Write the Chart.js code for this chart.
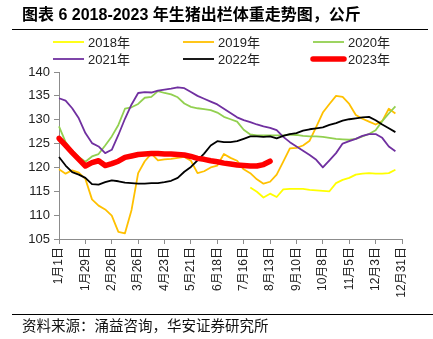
<!DOCTYPE html>
<html><head><meta charset="utf-8">
<script src="https://cdn.jsdelivr.net/npm/chart.js@4.4.1/dist/chart.umd.min.js"></script>
<style>html,body{margin:0;padding:0;background:#fff;}canvas{display:block;}</style>
</head><body>
<canvas id="c" width="433" height="339"></canvas>
<script>
const titleText = '图表 6 2018-2023 年生猪出栏体重走势图，公斤';
const sourceText = '资料来源：涌益咨询，华安证券研究所';
const weeks = ['1月1日','1月8日','1月15日','1月22日','1月29日','2月5日','2月12日','2月19日','2月26日','3月5日','3月12日','3月19日','3月26日','4月2日','4月9日','4月16日','4月23日','4月30日','5月7日','5月14日','5月21日','5月28日','6月4日','6月11日','6月18日','6月25日','7月2日','7月9日','7月16日','7月23日','7月30日','8月6日','8月13日','8月20日','8月27日','9月3日','9月10日','9月17日','9月24日','10月1日','10月8日','10月15日','10月22日','10月29日','11月5日','11月12日','11月19日','11月26日','12月3日','12月10日','12月17日','12月24日','12月31日'];
const labelEvery = 4;
const seriesNames = ['2018年','2019年','2020年','2021年','2022年','2023年'];
const y2018 = Array(29).fill(null).concat([115.8,114.9,113.7,114.5,113.8,115.4,115.5,115.5,115.5,115.3,115.2,115.1,115.0,116.7,117.4,117.8,118.5,118.7,118.8,118.7,118.7,118.8,119.5]);
const y2019 = [119.6,118.7,119.4,118.9,117.6,113.3,112.0,111.2,109.9,106.5,106.2,111.1,118.8,121.3,122.9,121.5,121.7,121.8,122.0,122.2,121.4,118.8,119.2,120.0,120.4,122.8,122.0,121.4,119.6,118.8,117.5,116.6,117.0,118.5,121.2,124.0,124.1,124.6,125.6,128.5,131.5,133.3,135.0,134.8,133.3,131.0,130.2,129.6,129.0,129.7,132.3,131.3];
const y2020 = [128.6,125.3,123.5,122.2,121.2,122.3,122.8,124.6,126.5,128.9,132.3,132.6,133.3,134.6,134.8,136.0,135.6,135.3,134.7,133.4,132.7,132.4,132.2,132.0,131.5,130.6,130.1,129.6,127.9,126.9,126.7,126.7,126.7,126.7,126.7,126.9,126.8,126.6,126.5,126.5,126.4,126.2,126.0,125.9,125.8,126.0,126.5,127.0,127.8,129.7,131.3,132.8];
const y2021 = [134.5,134.0,132.4,130.3,127.2,125.1,124.4,123.0,123.7,126.8,130.2,133.2,135.6,135.8,135.7,136.1,136.3,136.5,136.8,136.6,135.8,135.0,134.4,133.8,133.2,132.3,131.4,130.5,129.9,129.5,129.0,128.6,128.3,127.8,126.4,125.3,124.4,123.5,122.6,121.6,120.0,121.5,123.0,125.0,125.5,126.0,126.6,127.0,127.0,126.2,124.4,123.4];
const y2022 = [122.2,120.4,119.0,118.5,117.8,116.5,116.4,116.9,117.3,117.1,116.8,116.7,116.6,116.6,116.7,116.7,116.9,117.2,117.8,119.1,120.1,121.5,122.9,124.6,125.5,125.3,125.3,125.5,126.0,126.5,126.5,126.4,126.5,126.1,126.6,127.0,127.2,127.7,128.0,128.2,128.4,128.9,129.3,129.8,130.1,130.3,130.5,130.6,129.9,129.0,128.2,127.4];
const y2023 = [126.1,124.6,123.1,121.7,120.3,121.0,121.4,120.4,120.8,121.3,122.1,122.4,122.7,122.8,122.9,122.9,122.8,122.8,122.7,122.6,122.3,121.9,121.7,121.4,121.2,120.9,120.7,120.5,120.4,120.3,120.3,120.6,121.3];
const yMin = 105, yMax = 140, yStep = 5;

const colors = ['#FFFF00','#FFC000','#92D050','#7030A0','#000000','#FF0000'];
const widths = [1.8,1.8,1.8,1.8,1.8,5.5];
const allData = [y2018,y2019,y2020,y2021,y2022,y2023];
const drawOrder = [5,4,3,2,1,0];

const datasets = allData.map((d,i)=>({
  label: seriesNames[i], data: d, borderColor: colors[i], backgroundColor: colors[i],
  borderWidth: widths[i], pointRadius: 0, tension: 0, fill: false, spanGaps: false,
  borderCapStyle: i===5 ? 'round' : 'butt', borderJoinStyle: 'round', order: drawOrder[i]
}));

const FONT = '"Liberation Sans", "Noto Sans CJK SC", sans-serif';

const decor = {
  id: 'decor',
  afterDraw(chart){
    const ctx = chart.ctx;
    ctx.save();
    ctx.fillStyle = '#000';
    ctx.textBaseline = 'middle';
    ctx.textAlign = 'left';
    ctx.font = 'bold 16px ' + FONT;
    ctx.fillText(titleText, 22, 16);
    ctx.strokeStyle = '#000';
    ctx.lineWidth = 1;
    ctx.beginPath(); ctx.moveTo(12, 29.5); ctx.lineTo(428, 29.5); ctx.stroke();
    ctx.beginPath(); ctx.moveTo(12, 314.5); ctx.lineTo(433, 314.5); ctx.stroke();
    ctx.font = '14.5px "Noto Sans CJK SC", sans-serif';
    ctx.fillStyle = '#111';
    ctx.fillText(sourceText, 22, 325);
    // legend
    const colX = [53, 183, 313], rowY = [42, 59];
    ctx.font = '13px ' + FONT;
    chart.data.datasets.forEach((ds, i) => {
      const x = colX[i % 3], y = rowY[Math.floor(i / 3)];
      ctx.strokeStyle = ds.borderColor;
      ctx.lineWidth = ds.borderWidth;
      ctx.lineCap = ds.borderCapStyle;
      ctx.beginPath(); ctx.moveTo(x, y); ctx.lineTo(x + 31, y); ctx.stroke();
      ctx.fillStyle = '#222';
      ctx.fillText(ds.label, x + 35, y + 1);
    });
    ctx.restore();
  }
};

new Chart(document.getElementById('c'), {
  type: 'line',
  data: { labels: weeks, datasets },
  options: {
    responsive: false, animation: false,
    layout: { padding: { top: 72, right: 31, left: 0, bottom: 0 } },
    plugins: { legend: { display: false }, tooltip: { enabled: false } },
    scales: {
      x: {
        offset: false,
        afterFit(s){ s.height = 100; },
        border: { color: '#8c8c8c', width: 1 },
        grid: { drawOnChartArea: false, tickLength: 5, tickColor: (c) => (c.index % labelEvery === 0 ? '#8c8c8c' : 'rgba(0,0,0,0)') },
        ticks: {
          autoSkip: false, maxRotation: 90, minRotation: 90, padding: 3,
          color: '#222', font: { family: FONT, size: 12 },
          callback: (v, i) => (i % labelEvery === 0 ? weeks[i] : '')
        }
      },
      y: {
        min: yMin, max: yMax,
        afterFit(s){ s.width = 59; },
        border: { color: '#8c8c8c', width: 1 },
        grid: { drawOnChartArea: false, tickLength: 5, tickColor: '#8c8c8c' },
        ticks: { stepSize: yStep, padding: 4, color: '#222', font: { family: FONT, size: 13 } }
      }
    }
  },
  plugins: [decor]
});
</script>
</body></html>
